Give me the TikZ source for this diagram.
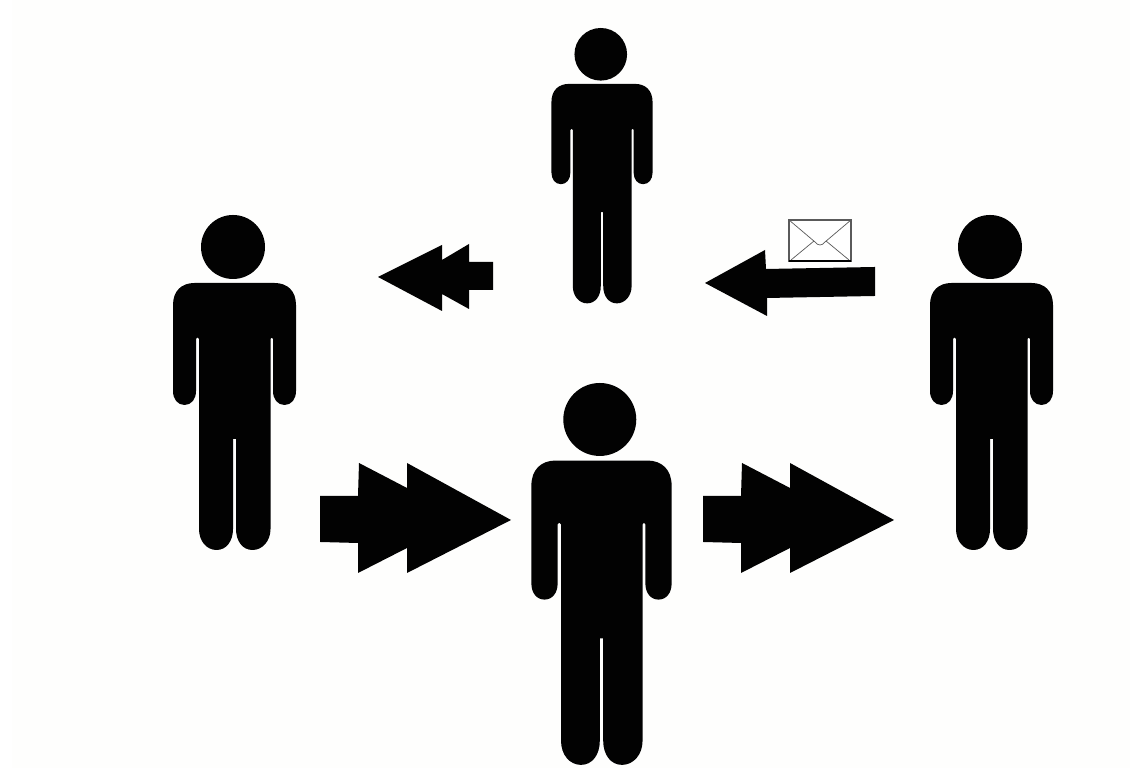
\documentclass[tikz,border=0pt]{standalone}
\definecolor{paper}{HTML}{FEFEFD}
\definecolor{ink}{HTML}{020202}
\definecolor{envline}{HTML}{5A5A5A}
\tikzset{
  shapefill/.style={fill=ink,draw=none},
  px/.style={x=0.01cm,y=-0.01cm},
  pics/person/.style={code={
    % coordinates relative to top centre; unit: reference-size figure (123 wide, 335 tall)
    \fill[ink] (-1.5,32) circle (32);
    \fill[ink]
      (-40,68) -- (40,68)
      .. controls (53,68) and (61.5,76) .. (61.5,90)
      -- (61.5,176) .. controls (61.5,184) and (57,190) .. (50,190)
      .. controls (43,190) and (38.5,184) .. (38.5,176)
      -- (38.5,124) .. controls (38.5,122) and (36,122) .. (36,124)
      -- (36,314) .. controls (36,326) and (28,335) .. (18,335)
      .. controls (8,335) and (1.5,326) .. (1.5,314)
      -- (1.5,224) -- (-1.5,224) -- (-1.5,314)
      .. controls (-1.5,326) and (-8,335) .. (-18,335)
      .. controls (-28,335) and (-35.5,326) .. (-35.5,314)
      -- (-35.5,124) .. controls (-35.5,122) and (-38.5,122) .. (-38.5,124)
      -- (-38.5,176) .. controls (-38.5,184) and (-43,190) .. (-50,190)
      .. controls (-57,190) and (-61.5,184) .. (-61.5,176)
      -- (-61.5,90) .. controls (-61.5,76) and (-53,68) .. (-40,68) -- cycle;
  }}
}
\begin{document}
\begin{tikzpicture}[px]
\useasboundingbox (0,0) rectangle (1130,768);
\fill[white] (0,0) rectangle (1130,768);
\fill[paper] (12,0) rectangle (1130,768);
% people
\pic at (234.5,215) {person};
\pic at (991.5,215) {person};
\pic[scale=0.822] at (602,28) {person};
\pic[scale=1.14] at (601.5,383) {person};
% double arrows to the right
\foreach \dx in {0,383}{
\fill[shapefill,xshift=\dx*0.01cm]
  (320,496) -- (358,496) -- (359,463) -- (407,488) -- (407,463) -- (511,520)
  -- (407,573) -- (407,548) -- (358,573) -- (358,543) -- (320,542) -- cycle;
}
% small double arrow to the left
\fill[shapefill] (378,277) -- (442,245) -- (442,260) -- (469,244) -- (469,262) -- (493,262)
  -- (493,290) -- (469,290) -- (469,309) -- (442,294) -- (442,311) -- cycle;
% mail arrow
\fill[shapefill] (705,283) -- (765,250) -- (766,269) -- (875,267) -- (875,296) -- (767,298) -- (767,316) -- cycle;
% envelope
\draw[envline,line width=0.3pt,fill=white] (789,220) rectangle (851,261);
\draw[envline,line width=0.2pt] (789,220) -- (815,242) .. controls (818,246) and (822,246) .. (825,242) -- (851,220);
\draw[envline,line width=0.2pt] (791,260) -- (814,241) (849,260) -- (826,241);
\draw[black,line width=0.35pt] (789,261) -- (851,261);
\end{tikzpicture}
\end{document}
